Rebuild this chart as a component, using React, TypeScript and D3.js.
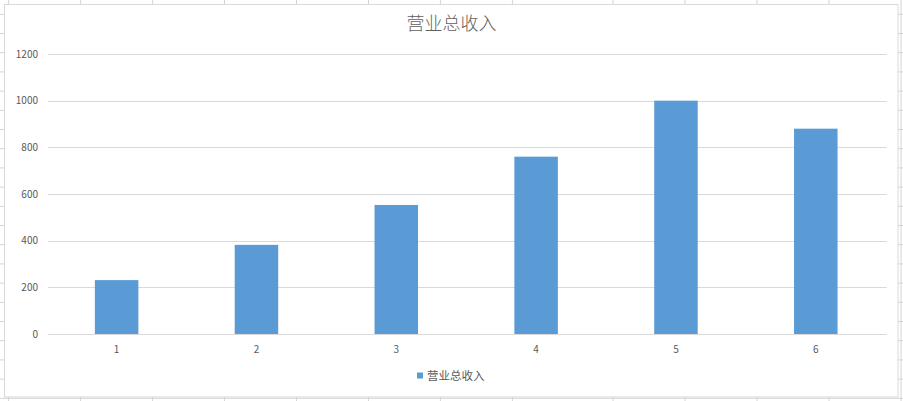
import React from "react";
import * as d3 from "d3";

const categories = ["1", "2", "3", "4", "5", "6"];
const revenue = [231, 382, 553, 760, 1000, 880];
const yTicks = [0, 200, 400, 600, 800, 1000, 1200];
const title = "营业总收入";
const seriesName = "营业总收入";
const sheetCols = [8.6, 80.6, 152.6, 224.5, 296.5, 368.5, 440.4, 512.4, 613, 685, 757, 829, 901];

const W = 903;
const H = 401;
const FONT = "'Noto Sans CJK SC', 'Noto Sans', sans-serif";

export default function App() {
  const x = d3.scaleBand<string>().domain(categories).range([46.7, 885.7]).paddingInner(0).paddingOuter(0);
  const y = d3.scaleLinear().domain([0, 1200]).range([334, 54]);
  const barW = 43.5;
  const rows = d3.range(14.3, H, 19.2);

  return (
    <svg width={W} height={H} style={{ position: "absolute", left: 0, top: 0, background: "#fff" }}>
      <g stroke="#d4d4d4" strokeWidth={1}>
        {sheetCols.map((c, i) => (
          <line key={"c" + i} x1={c} x2={c} y1={0} y2={H} />
        ))}
        {rows.map((r, i) => (
          <line key={"r" + i} x1={0} x2={W} y1={r} y2={r} />
        ))}
      </g>
      <rect x={4.5} y={4.5} width={893.5} height={392.5} fill="#fff" stroke="#d9d9d9" strokeWidth={1} />
      <text x={451.5} y={30} textAnchor="middle" fontFamily={FONT} fontSize={18} fontWeight={300} fill="#5f5f5f">
        {title}
      </text>
      <g stroke="#d9d9d9" strokeWidth={1}>
        {yTicks.map((t) => (
          <line key={t} x1={47.7} x2={886.7} y1={Math.round(y(t)) + 0.5} y2={Math.round(y(t)) + 0.5} />
        ))}
      </g>
      <g fontFamily={FONT} fontSize={10} fill="#595959" textAnchor="end">
        {yTicks.map((t) => (
          <text key={t} x={38} y={y(t) + 3.5}>
            {t}
          </text>
        ))}
      </g>
      <g fill="#5b9bd5">
        {categories.map((c, i) => (
          <rect
            key={c}
            x={(x(c) as number) + x.bandwidth() / 2 - barW / 2}
            y={y(revenue[i])}
            width={barW}
            height={y(0) - y(revenue[i])}
          />
        ))}
      </g>
      <g fontFamily={FONT} fontSize={10} fill="#595959" textAnchor="middle">
        {categories.map((c) => (
          <text key={c} x={(x(c) as number) + x.bandwidth() / 2} y={353}>
            {c}
          </text>
        ))}
      </g>
      <rect x={417} y={372.5} width={6} height={6} fill="#5b9bd5" />
      <text x={427} y={380} fontFamily={FONT} fontSize={11.5} fill="#595959">
        {seriesName}
      </text>
    </svg>
  );
}
